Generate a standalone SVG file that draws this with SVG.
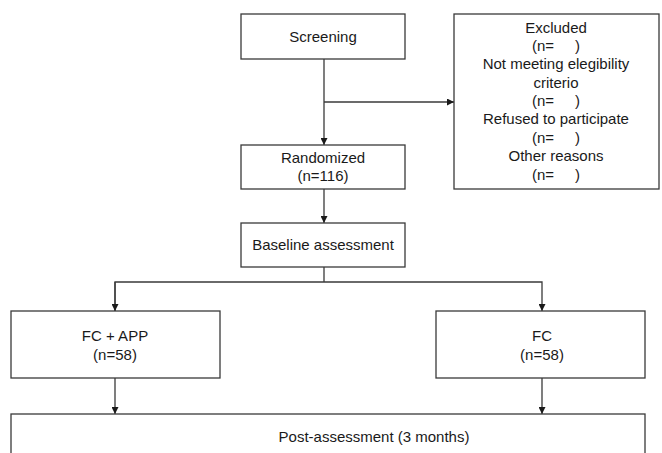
<svg xmlns="http://www.w3.org/2000/svg" width="662" height="453" viewBox="0 0 662 453">
<defs>
<style>
.box{fill:#fff;stroke:#3a3a3a;stroke-width:1.3}
.t{font-family:"Liberation Sans",Arial,sans-serif;font-size:15px;fill:#1a1a1a;text-anchor:middle}
.ln{fill:none;stroke:#3a3a3a;stroke-width:1.3}
</style>
<marker id="ah" viewBox="0 0 10 10" refX="10" refY="5" markerWidth="7" markerHeight="7" markerUnits="userSpaceOnUse" orient="auto">
<path d="M0,0 L10,5 L0,10 z" fill="#1a1a1a"/>
</marker>
</defs>
<rect width="662" height="453" fill="#fff"/>
<g id="connectors">
<path class="ln" d="M324,59 V145" marker-end="url(#ah)"/>
<path class="ln" d="M324,102 H454" marker-end="url(#ah)"/>
<path class="ln" d="M324,189 V223" marker-end="url(#ah)"/>
<path class="ln" d="M324,267 V282"/>
<path class="ln" d="M115,311 V282 H542 V311" marker-end="url(#ah)"/>
<path class="ln" d="M115,282 V311" marker-end="url(#ah)"/>
<path class="ln" d="M115,378 V414" marker-end="url(#ah)"/>
<path class="ln" d="M542,378 V414" marker-end="url(#ah)"/>
</g>
<g id="screening">
<rect class="box" x="241" y="14" width="164" height="45"/>
<text class="t" x="323" y="42">Screening</text>
</g>
<g id="excluded">
<rect class="box" x="454" y="14" width="205" height="175"/>
<text class="t" x="556" y="33">Excluded</text>
<text class="t" x="556" y="51" xml:space="preserve">(n=     )</text>
<text class="t" x="556" y="69">Not meeting elegibility</text>
<text class="t" x="556" y="88">criterio</text>
<text class="t" x="556" y="106" xml:space="preserve">(n=     )</text>
<text class="t" x="556" y="124">Refused to participate</text>
<text class="t" x="556" y="143" xml:space="preserve">(n=     )</text>
<text class="t" x="556" y="161">Other reasons</text>
<text class="t" x="556" y="180" xml:space="preserve">(n=     )</text>
</g>
<g id="randomized">
<rect class="box" x="241" y="145" width="164" height="44"/>
<text class="t" x="323" y="163">Randomized</text>
<text class="t" x="323" y="181">(n=116)</text>
</g>
<g id="baseline">
<rect class="box" x="241" y="223" width="164" height="44"/>
<text class="t" x="323" y="250">Baseline assessment</text>
</g>
<g id="fcapp">
<rect class="box" x="11" y="311" width="209" height="67"/>
<text class="t" x="115" y="341">FC + APP</text>
<text class="t" x="115" y="360">(n=58)</text>
</g>
<g id="fc">
<rect class="box" x="436" y="311" width="209" height="67"/>
<text class="t" x="542" y="341">FC</text>
<text class="t" x="542" y="360">(n=58)</text>
</g>
<g id="post">
<rect class="box" x="11" y="414" width="634" height="60"/>
<text class="t" x="374" y="442">Post-assessment (3 months)</text>
</g>
</svg>
